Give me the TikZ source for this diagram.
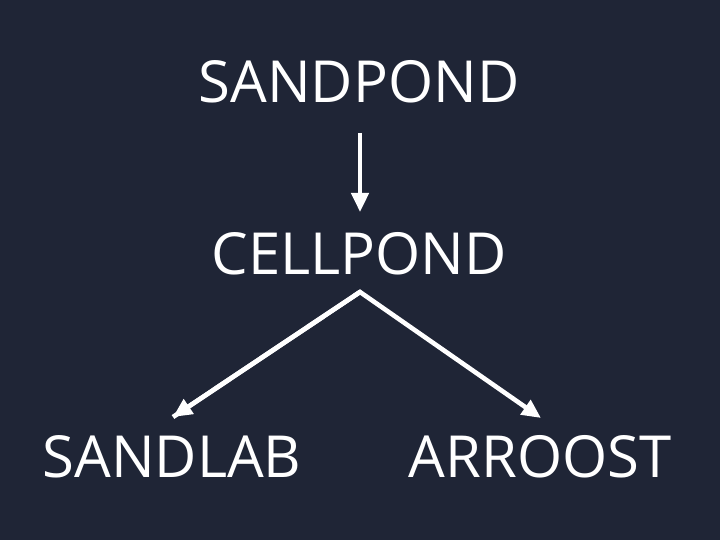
\documentclass[tikz,border=0pt]{standalone}
\usepackage{fontspec}
\setmainfont{Open Sans}
\usetikzlibrary{arrows.meta}
\definecolor{bgc}{HTML}{1F2536}
\tikzset{
  lbl/.style={text=white, font=\fontsize{58}{60}\selectfont, inner sep=0pt, anchor=center},
  arr/.style={draw=white, line width=4.6pt, -{Triangle[length=19pt,width=17pt]}}
}
\begin{document}
\begin{tikzpicture}[x=1pt,y=-1pt]
\fill[bgc] (0,0) rectangle (720,540);
\useasboundingbox (0,0) rectangle (720,540);
\node[lbl] (sp) at (359,82) {SANDPOND};
\node[lbl] (cp) at (359,254) {CELLPOND};
\node[lbl] (sl) at (172,457) {SANDLAB};
\node[lbl] (ar) at (540,457) {ARROOST};
\coordinate (a1) at (360,133);
\coordinate (a2) at (360,212);
\coordinate (b0) at (360,292);
\coordinate (b1) at (173,417);
\coordinate (b2) at (541,418);
\draw[arr] (a1) -- (a2);
\draw[arr, line join=miter] (b1) -- (b0) -- (b2);
\draw[arr] (b0) -- (b1);
\end{tikzpicture}
\end{document}
